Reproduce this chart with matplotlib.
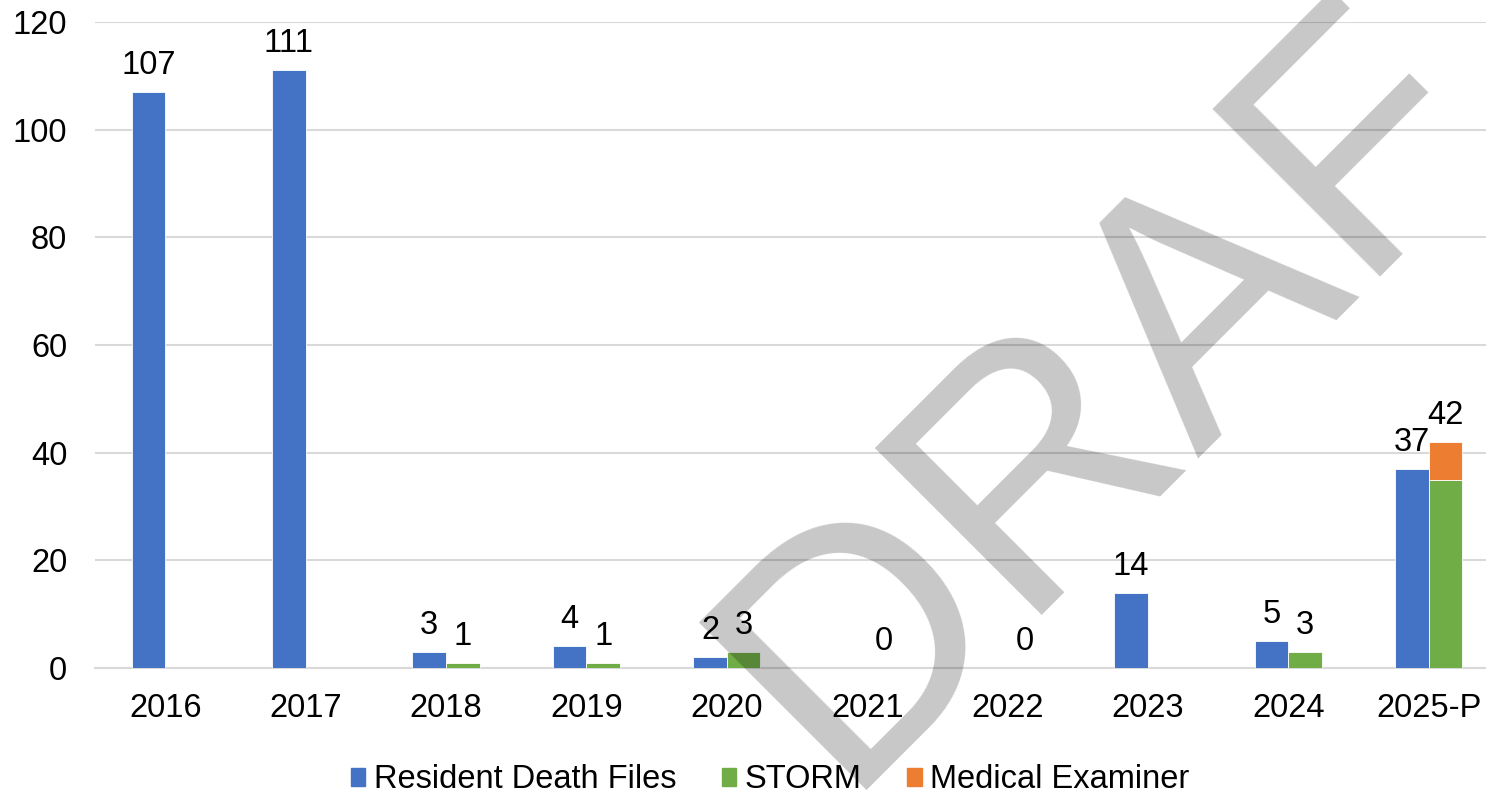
import numpy as np
import matplotlib
matplotlib.use("Agg")
import matplotlib.pyplot as plt
from matplotlib.patches import Patch

plt.rcParams['font.family'] = ['Liberation Sans', 'DejaVu Sans']

years = ['2016', '2017', '2018', '2019', '2020', '2021', '2022', '2023', '2024', '2025-P']
resident = [107, 111, 3, 4, 2, np.nan, np.nan, 14, 5, 37]
storm = [np.nan, np.nan, 1, 1, 3, 0, 0, np.nan, 3, 35]
med_exam = [np.nan, np.nan, np.nan, np.nan, np.nan, np.nan, np.nan, np.nan, np.nan, 7]

c_blue = '#4472C4'
c_green = '#70AD47'
c_orange = '#ED7D31'
fs = 23.5

W, H = 1486, 793
fig = plt.figure(figsize=(W / 100, H / 100), dpi=100)
ax = fig.add_axes([95 / W, (H - 668) / H, 1404 / W, 646 / H])

x = np.arange(len(years))
bw = 0.24
storm_base = np.nan_to_num(np.array(storm, dtype=float))

ax.bar(x - bw / 2, resident, bw, color=c_blue, edgecolor='white', linewidth=0.6, zorder=3)
ax.bar(x + bw / 2, storm, bw, color=c_green, edgecolor='white', linewidth=0.6, zorder=3)
ax.bar(x + bw / 2, med_exam, bw, bottom=storm_base, color=c_orange, edgecolor='white', linewidth=0.6, zorder=3)

lbl = dict(textcoords='offset points', xytext=(0, 13), ha='center', va='baseline', fontsize=fs)
for i in range(len(years)):
    if not np.isnan(resident[i]):
        ax.annotate(f'{resident[i]:g}', (x[i] - bw / 2, resident[i]), **lbl)
    if not np.isnan(med_exam[i]):
        tot = storm_base[i] + med_exam[i]
        ax.annotate(f'{tot:g}', (x[i] + bw / 2, tot), **lbl)
    elif not np.isnan(storm[i]):
        ax.annotate(f'{storm[i]:g}', (x[i] + bw / 2, storm[i]), **lbl)

ax.set_xlim(-0.5, len(years) - 0.5)
ax.set_ylim(0, 120)
ax.set_yticks(range(0, 121, 20))
ax.set_xticks(x)
ax.set_xticklabels(years)
ax.tick_params(axis='both', length=0, labelsize=fs)
ax.tick_params(axis='x', pad=18)
ax.tick_params(axis='y', pad=20)
ax.yaxis.grid(True, color='#D9D9D9', linewidth=1.5, zorder=0)
ax.set_axisbelow(True)
for s in ['top', 'right', 'left']:
    ax.spines[s].set_visible(False)
ax.spines['bottom'].set_color('#D9D9D9')
ax.spines['bottom'].set_linewidth(1.5)

handles = [Patch(color=c_blue, label='Resident Death Files'),
           Patch(color=c_green, label='STORM'),
           Patch(color=c_orange, label='Medical Examiner')]
fig.legend(handles=handles, loc='center', bbox_to_anchor=(770 / W, 13 / H), ncol=3,
           frameon=False, fontsize=fs, handlelength=0.45, handleheight=0.45,
           handletextpad=0.25, columnspacing=1.4)

# DRAFT watermark
fig.text(838 / W, 3 / H, 'DRAFT', rotation=45, rotation_mode='anchor',
         ha='left', va='baseline', fontsize=248, color='black', alpha=0.22, zorder=10)

fig.savefig('out.png', dpi=100)
